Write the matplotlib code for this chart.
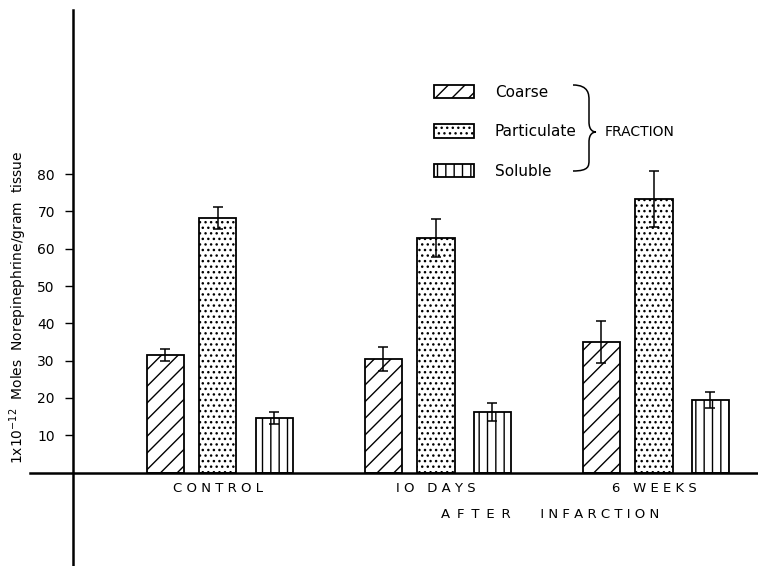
import matplotlib
matplotlib.use("Agg")
import matplotlib.pyplot as plt
import matplotlib.transforms as mtransforms
from matplotlib.path import Path
from matplotlib.patches import PathPatch
import numpy as np

# Norepinephrine content by subcellular fraction
groups = ["C O N T R O L", "I O   D A Y S", "6   W E E K S"]
fractions = ["Coarse", "Particulate", "Soluble"]
coarse = [31.5, 30.4, 35.0]
coarse_err = [1.6, 3.3, 5.6]
particulate = [68.2, 62.9, 73.3]
particulate_err = [3.0, 5.0, 7.5]
soluble = [14.6, 16.2, 19.4]
soluble_err = [1.5, 2.5, 2.2]
yticks = [10, 20, 30, 40, 50, 60, 70, 80]


def spaced(word, gap=" "):
    return gap.join(word)


plt.rcParams["font.family"] = ["DejaVu Sans"]
plt.rcParams["hatch.linewidth"] = 1.0

W, H = 758, 566
fig = plt.figure(figsize=(W / 100, H / 100), dpi=100)
ax = fig.add_axes([30 / W, 1 / H, 728 / W, 555 / H])

x = np.arange(len(groups))
offsets = [-0.241, 0.0, 0.259]
width = 0.17
hatches = ["//", "...", "||"]
series = [(coarse, coarse_err), (particulate, particulate_err), (soluble, soluble_err)]

handles = []
for (vals, errs), off, hatch, name in zip(series, offsets, hatches, fractions):
    bars = ax.bar(x + off, vals, width, color="white", edgecolor="black",
                  linewidth=1.3, hatch=hatch, label=name, zorder=2)
    ax.errorbar(x + off, vals, yerr=errs, fmt="none", ecolor="black",
                elinewidth=1.1, capsize=3.5, capthick=1.1, zorder=3)
    handles.append(bars)

ax.set_xlim(-0.862, 2.477)
ax.set_ylim(-24.8, 124.0)

for s in ("top", "right"):
    ax.spines[s].set_visible(False)
ax.spines["left"].set_position(("data", -0.665))
ax.spines["bottom"].set_position(("data", 0))
ax.spines["left"].set_linewidth(1.8)
ax.spines["bottom"].set_linewidth(1.8)

ax.set_yticks(yticks)
ax.set_yticklabels([str(v) for v in yticks], fontsize=10)
ax.tick_params(axis="y", direction="out", length=6, width=1.0, pad=7)
ax.set_xticks(x)
ax.set_xticklabels(groups, fontsize=9.5)
ax.tick_params(axis="x", length=0, pad=7)

xlabel = spaced("AFTER", " \u2009") + " " * 7 + spaced("INFARCTION")
ax.set_xlabel(xlabel, fontsize=9.5)
ax.xaxis.set_label_coords((550 - 30) / 728, (565 - 508) / 555)

ax.set_ylabel(r"1x10$^{-12}$  Moles  Norepinephrine/gram  tissue", fontsize=10)
ax.yaxis.set_label_coords((29 - 30) / 728, (565 - 307) / 555)

leg = ax.legend(handles=handles, labels=fractions, frameon=False, fontsize=11,
                loc="upper left", bbox_to_anchor=(434 / W, 1 - 85 / H),
                bbox_transform=fig.transFigure, borderpad=0, borderaxespad=0,
                handlelength=2.6, handleheight=0.98, handletextpad=1.37,
                labelspacing=1.6)

# curly brace grouping the three fractions (pixel coordinates from top-left)
px = mtransforms.Affine2D().scale(1 / W, -1 / H).translate(0, 1) + fig.transFigure
verts = [(573, 85), (589, 85), (589, 95), (589, 100),
         (589, 122),
         (589, 130), (593, 132), (596, 132),
         (593, 132), (589, 134), (589, 142),
         (589, 160),
         (589, 166), (589, 171), (573, 171)]
codes = [Path.MOVETO, Path.CURVE4, Path.CURVE4, Path.CURVE4,
         Path.LINETO,
         Path.CURVE4, Path.CURVE4, Path.CURVE4,
         Path.CURVE4, Path.CURVE4, Path.CURVE4,
         Path.LINETO,
         Path.CURVE4, Path.CURVE4, Path.CURVE4]
fig.add_artist(PathPatch(Path(verts, codes), transform=px, facecolor="none",
                         edgecolor="black", linewidth=1.1))
fig.text(605 / W, 1 - 132 / H, "FRACTION", fontsize=10, ha="left", va="center")

fig.savefig("out.png", dpi=100)
